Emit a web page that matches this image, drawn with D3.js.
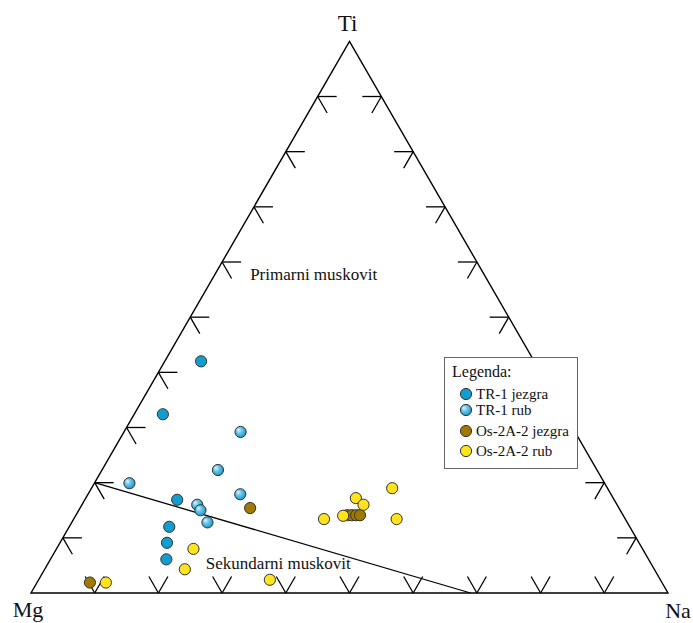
<!DOCTYPE html>
<html>
<head>
<meta charset="utf-8">
<script src="https://cdn.jsdelivr.net/npm/d3@7"></script>
<style>
  html, body { margin: 0; padding: 0; background: #fff; }
  svg { display: block; }
  text { font-family: "Liberation Serif", "Times New Roman", serif; fill: #111; }
</style>
</head>
<body>
<svg id="chart" width="693" height="623"></svg>
<script>
// ---- DATA (ternary compositions in %, as [Mg, Na, Ti]) ----
const vertexLabels = ["Mg", "Na", "Ti"];
const tickValues = [10, 20, 30, 40, 50, 60, 70, 80, 90];
const seriesNames = ["TR-1 jezgra", "TR-1 rub", "Os-2A-2 jezgra", "Os-2A-2 rub"];

const tr1Jezgra = [
  [52.3, 5.7, 42.0], [63.1, 4.5, 32.4], [68.6, 14.5, 16.9],
  [72.3, 15.7, 12.0], [74.1, 16.8, 9.1], [75.7, 18.2, 6.1]
];
const tr1Rub = [
  [74.6, 5.5, 19.9], [52.5, 18.3, 29.2], [59.5, 18.2, 22.3],
  [58.2, 23.9, 17.9], [65.9, 18.1, 16.0], [65.9, 19.1, 15.0],
  [65.9, 21.3, 12.8]
];
const os2aJezgra = [
  [57.9, 26.7, 15.4], [89.8, 8.3, 1.9],
  [43.3, 42.6, 14.1], [42.6, 43.3, 14.1], [41.9, 44.0, 14.1], [41.3, 44.6, 14.1]
];
const os2aRub = [
  [87.3, 10.8, 1.9], [70.5, 21.5, 8.0], [73.7, 22.0, 4.3],
  [61.3, 36.3, 2.4], [47.3, 39.3, 13.4], [44.0, 42.0, 14.0],
  [40.4, 42.4, 17.2], [39.8, 44.2, 16.0], [33.8, 47.2, 19.0],
  [35.9, 50.7, 13.4]
];
const boundaryLine = [[80, 0, 20], [31, 69, 0]];
const fieldLabels = [
  { text: "Primarni muskovit", comp: [37.2, 6.0, 56.8] },
  { text: "Sekundarni muskovit", comp: [70.4, 25.3, 4.3] }
];

// ---- LAYOUT ----
const svg = d3.select("#chart");
const left = 31, right = 668, baseY = 593;
const side = right - left;
const triH = side * Math.sqrt(3) / 2;

const xScale = d3.scaleLinear().domain([0, 100]).range([left, right]);
const yScale = d3.scaleLinear().domain([0, 100]).range([baseY, baseY - triH]);
const proj = c => {
  const s = c[0] + c[1] + c[2];
  const na = c[1] * 100 / s, ti = c[2] * 100 / s;
  return [xScale(na + ti / 2), yScale(ti)];
};

const defs = svg.append("defs");
const grad = defs.append("radialGradient").attr("id", "lightBlue")
  .attr("cx", "45%").attr("cy", "45%").attr("r", "60%").attr("fx", "30%").attr("fy", "30%");
grad.append("stop").attr("offset", "0%").attr("stop-color", "#e2f6fd");
grad.append("stop").attr("offset", "40%").attr("stop-color", "#70c9eb");
grad.append("stop").attr("offset", "100%").attr("stop-color", "#1190c4");

const fills = ["#129dd0", "url(#lightBlue)", "#a07a00", "#ffe31c"];
const seriesData = [tr1Jezgra, tr1Rub, os2aJezgra, os2aRub];

const pMg = proj([100, 0, 0]), pNa = proj([0, 100, 0]), pTi = proj([0, 0, 100]);

// triangle
svg.append("path")
  .attr("d", d3.line()([pMg, pNa, pTi]) + "Z")
  .attr("fill", "none").attr("stroke", "#000").attr("stroke-width", 1.4);

// ticks: two arms parallel to the other two sides, pointing inwards
const armLen = 19;
const dirs = {
  right: [1, 0],
  downRight: [0.5, Math.sqrt(3) / 2],
  downLeft: [-0.5, Math.sqrt(3) / 2],
  left: [-1, 0],
  upRight: [0.5, -Math.sqrt(3) / 2],
  upLeft: [-0.5, -Math.sqrt(3) / 2]
};
const tickG = svg.append("g").attr("stroke", "#000").attr("stroke-width", 1.3).attr("fill", "none");
tickValues.forEach(v => {
  const a = proj([100 - v, 0, v]);   // left edge, Ti = v
  const b = proj([100 - v, v, 0]);   // bottom edge, Na = v
  const c = proj([0, 100 - v, v]);   // right edge, Ti = v
  [[a, dirs.right], [a, dirs.downRight],
   [b, dirs.upLeft], [b, dirs.upRight],
   [c, dirs.left], [c, dirs.downLeft]].forEach(([p, d]) => {
    tickG.append("line")
      .attr("x1", p[0]).attr("y1", p[1])
      .attr("x2", p[0] + d[0] * armLen).attr("y2", p[1] + d[1] * armLen);
  });
});

// boundary line
svg.append("path")
  .attr("d", d3.line()(boundaryLine.map(proj)))
  .attr("fill", "none").attr("stroke", "#000").attr("stroke-width", 1.3);

// field labels
fieldLabels.forEach(f => {
  const p = proj(f.comp);
  svg.append("text").attr("x", p[0]).attr("y", p[1])
    .attr("font-size", 17).text(f.text);
});

// points
seriesData.forEach((arr, i) => {
  svg.append("g").selectAll("circle").data(arr).join("circle")
    .attr("cx", d => proj(d)[0]).attr("cy", d => proj(d)[1])
    .attr("r", 5.6)
    .attr("fill", fills[i])
    .attr("stroke", "#333").attr("stroke-width", 1);
});

// vertex labels
svg.append("text").attr("x", pTi[0] - 2).attr("y", 31).attr("text-anchor", "middle")
  .attr("font-size", 23).text(vertexLabels[2]);
svg.append("text").attr("x", pMg[0] - 3).attr("y", 617).attr("text-anchor", "middle")
  .attr("font-size", 22).text(vertexLabels[0]);
svg.append("text").attr("x", pNa[0] + 10).attr("y", 618).attr("text-anchor", "middle")
  .attr("font-size", 22).text(vertexLabels[1]);

// legend
const lg = svg.append("g");
lg.append("rect").attr("x", 444.5).attr("y", 357.5).attr("width", 133).attr("height", 111)
  .attr("fill", "#fff").attr("stroke", "#666").attr("stroke-width", 1);
lg.append("text").attr("x", 452).attr("y", 377).attr("font-size", 16).text("Legenda:");
const legY = [394, 410, 431, 451];
seriesNames.forEach((n, i) => {
  lg.append("circle").attr("cx", 466).attr("cy", legY[i]).attr("r", 5.6)
    .attr("fill", fills[i]).attr("stroke", "#333").attr("stroke-width", 1);
  lg.append("text").attr("x", 476).attr("y", legY[i] + 5).attr("font-size", 15).text(n);
});
</script>
</body>
</html>
